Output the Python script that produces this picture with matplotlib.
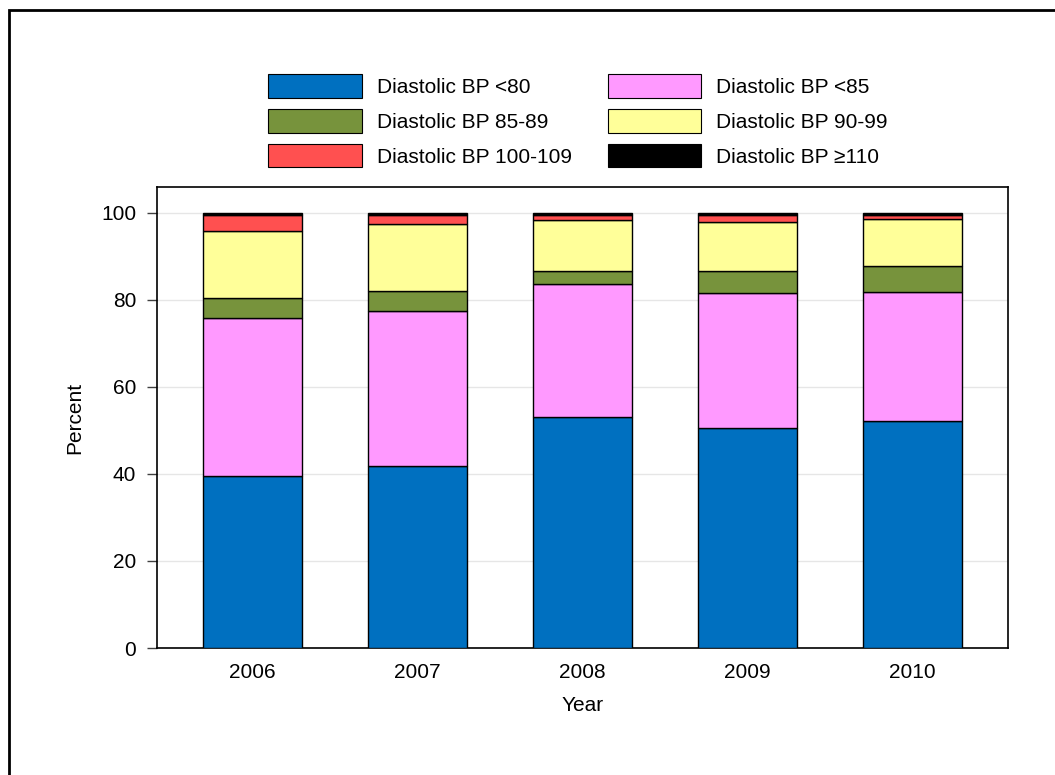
import matplotlib
matplotlib.use("Agg")
import matplotlib.pyplot as plt
from matplotlib.patches import Patch, Rectangle
import numpy as np

plt.rcParams["font.family"] = ["Liberation Sans", "DejaVu Sans"]

years = ["2006", "2007", "2008", "2009", "2010"]
series_labels = [
    "Diastolic BP <80",
    "Diastolic BP <85",
    "Diastolic BP 85-89",
    "Diastolic BP 90-99",
    "Diastolic BP 100-109",
    "Diastolic BP \u2265110",
]
bp_lt80 = [39.4, 41.7, 53.0, 50.5, 52.1]
bp_lt85 = [36.5, 35.8, 30.7, 31.1, 29.6]
bp_85_89 = [4.6, 4.5, 3.0, 5.0, 6.1]
bp_90_99 = [15.3, 15.3, 11.6, 11.3, 10.7]
bp_100_109 = [3.7, 2.2, 1.2, 1.6, 0.9]
bp_ge110 = [0.5, 0.5, 0.5, 0.5, 0.6]
colors = ["#0070C0", "#FF99FF", "#77933C", "#FFFF99", "#FF5050", "#000000"]

series = [bp_lt80, bp_lt85, bp_85_89, bp_90_99, bp_100_109, bp_ge110]

fig = plt.figure(figsize=(10.55, 7.75), dpi=100)
ax = fig.add_axes([157 / 1055, 1 - 648 / 775, (1008 - 157) / 1055, (648 - 187) / 775])

x = np.arange(len(years))
bottom = np.zeros(len(years))
for vals, col in zip(series, colors):
    ax.bar(x, vals, width=0.6, bottom=bottom, color=col, edgecolor="black",
           linewidth=1.0, zorder=3)
    bottom += np.array(vals)

ax.set_xlim(-0.58, 4.58)
ax.set_ylim(0, 105.9)
ax.set_yticks([0, 20, 40, 60, 80, 100])
ax.set_xticks(x)
ax.set_xticklabels(years)
ax.yaxis.grid(True, color="#e6e6e6", linewidth=1, zorder=0)
ax.tick_params(labelsize=15, length=7, width=1, color="#404040", pad=8)
ax.tick_params(axis="x", length=0, pad=11)
ax.set_xlabel("Year", fontsize=15, labelpad=10)
ax.set_ylabel("Percent", fontsize=15, labelpad=12)
for s in ax.spines.values():
    s.set_linewidth(1.2)

# legend: column-wise filling, so reorder
order = [0, 2, 4, 1, 3, 5]
handles = [Patch(facecolor=colors[i], edgecolor="black", linewidth=0.8) for i in order]
labels = [series_labels[i] for i in order]
fig.legend(handles, labels, ncol=2, frameon=False, fontsize=15,
           loc="upper left", bbox_to_anchor=(260 / 1055, 1 - 66 / 775),
           handlelength=4.5, handleheight=1.35, handletextpad=0.72,
           labelspacing=0.55, columnspacing=1.7, borderaxespad=0)

# outer frame of the original figure
fig.patches.append(Rectangle((9 / 1055, -0.1), 1.2, 1 - 10 / 775 + 0.1,
                             transform=fig.transFigure, fill=False,
                             edgecolor="black", linewidth=2))

fig.savefig("out.png", dpi=100)
